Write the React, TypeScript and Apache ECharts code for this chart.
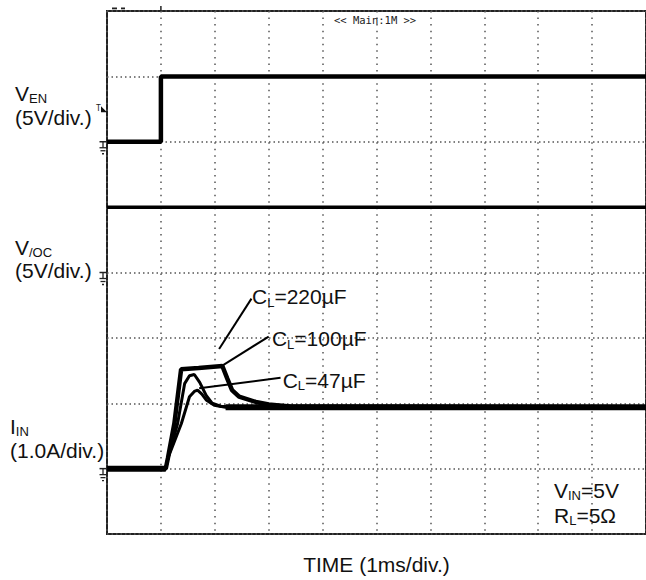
import React, { useEffect, useRef } from "react";
import * as echarts from "echarts";

const FONT = '"Liberation Sans", Arial, Helvetica, sans-serif';
const INK = "#111";

// axes: time in ms (1 ms / div), vertical in scope divisions
const TIME_MIN = 0;
const TIME_MAX = 10;
const TIME_STEP = 1;
const DIV_MIN = 0;
const DIV_MAX = 8;

// channel placement: ground level (div) and units per division
const VEN_GROUND = 6;
const VEN_PER_DIV = 5; // V/div
const VOC_GROUND = 4;
const VOC_PER_DIV = 5; // V/div
const IIN_GROUND = 1;
const IIN_PER_DIV = 1; // A/div
const TRIGGER_LEVEL_V = 2.25;

// V_EN trace (V)
const venTime = [0, 1.0, 1.0, 10];
const venVolts = [0, 0, 5, 5];

// V/OC trace (V)
const vocTime = [0, 10];
const vocVolts = [5, 5];

// I_IN traces (A)
const i220Time = [0, 1.09, 1.13, 1.25, 1.375, 1.7, 2.14, 2.23, 2.32, 2.45, 2.76, 3.0, 3.4, 10];
const i220Amps = [0, 0, 0.16, 0.69, 1.52, 1.54, 1.57, 1.38, 1.2, 1.1, 1.02, 0.98, 0.95, 0.94];

const i100Time = [0, 1.09, 1.13, 1.31, 1.44, 1.53, 1.62, 1.72, 1.84, 1.95, 2.12, 10];
const i100Amps = [0, 0, 0.16, 0.69, 1.3, 1.42, 1.44, 1.32, 1.12, 1.0, 0.95, 0.94];

const i47Time = [0, 1.09, 1.13, 1.38, 1.53, 1.62, 1.68, 1.76, 1.84, 1.99, 2.2, 10];
const i47Amps = [0, 0, 0.16, 0.69, 1.1, 1.18, 1.2, 1.14, 1.05, 0.97, 0.94, 0.94];

// common flat parts of the current traces (baseline and steady state)
const iFlatTime = [0, 1.09, null, 2.2, 10];
const iFlatAmps = [0, 0, null, 0.94, 0.94];

// annotations (time ms, current A)
const annCap = ["220µF", "100µF", "47µF"];
const annTextTime = [2.69, 3.06, 3.26];
const annTextAmps = [2.63, 1.99, 1.35];
const annFromTime = [2.68, 3.0, 3.22];
const annFromAmps = [2.6, 2.02, 1.39];
const annToTime = [2.08, 2.11, 1.71];
const annToAmps = [1.83, 1.56, 1.23];

const toDiv = (ground: number, perDiv: number) => (v: number) => ground + v / perDiv;
const venDiv = toDiv(VEN_GROUND, VEN_PER_DIV);
const vocDiv = toDiv(VOC_GROUND, VOC_PER_DIV);
const iinDiv = toDiv(IIN_GROUND, IIN_PER_DIV);

function zipData(t: (number | null)[], v: (number | null)[], f: (x: number) => number) {
  return t.map((x, i) => (x === null || v[i] === null ? null : [x, f(v[i] as number)]));
}

const richBase = {
  m: { fontSize: 21, fontFamily: FONT, fill: INK, lineHeight: 24 },
  s: { fontSize: 13, fontFamily: FONT, fill: INK, lineHeight: 16, verticalAlign: "bottom" },
  sl: { fontSize: 13, fontFamily: FONT, fill: INK, lineHeight: 9, verticalAlign: "bottom" },
};

function label(x: number, y: number, text: string) {
  return {
    type: "text",
    x,
    y,
    z: 50,
    style: { text, rich: richBase, verticalAlign: "middle", align: "left", fill: INK },
  };
}

export default function App() {
  const ref = useRef<HTMLDivElement>(null);

  useEffect(() => {
    if (!ref.current) return;
    const chart = echarts.init(ref.current, undefined, { renderer: "svg" });

    const series: any[] = [
      { name: "V_EN", data: zipData(venTime, venVolts, venDiv), w: 4.5 },
      { name: "V_OC", data: zipData(vocTime, vocVolts, vocDiv), w: 3.5 },
      { name: "I_IN flat", data: zipData(iFlatTime, iFlatAmps, iinDiv), w: 6 },
      { name: "CL 220", data: zipData(i220Time, i220Amps, iinDiv), w: 4.5 },
      { name: "CL 100", data: zipData(i100Time, i100Amps, iinDiv), w: 3 },
      { name: "CL 47", data: zipData(i47Time, i47Amps, iinDiv), w: 3 },
    ].map((s) => ({
      type: "line",
      name: s.name,
      data: s.data,
      showSymbol: false,
      connectNulls: false,
      lineStyle: { color: "#000", width: s.w },
      z: 10,
    }));

    chart.setOption({
      animation: false,
      backgroundColor: "#fff",
      grid: {
        left: 107,
        top: 11,
        width: 543,
        height: 525,
        show: true,
        borderColor: "#222",
        borderWidth: 2,
        backgroundColor: "transparent",
      },
      xAxis: {
        type: "value",
        min: TIME_MIN,
        max: TIME_MAX,
        interval: TIME_STEP,
        axisLine: { show: false },
        axisTick: { show: false },
        axisLabel: { show: false },
        splitLine: { show: true, lineStyle: { color: "#555", width: 1.5, type: [1.5, 5.06] } },
        name: "TIME (1ms/div.)",
        nameLocation: "middle",
        nameGap: 20,
        nameTextStyle: { fontSize: 21, fontFamily: FONT, color: INK, align: "center", verticalAlign: "top" },
      },
      yAxis: {
        type: "value",
        min: DIV_MIN,
        max: DIV_MAX,
        interval: 1,
        axisLine: { show: false },
        axisTick: { show: false },
        axisLabel: { show: false },
        splitLine: { show: true, lineStyle: { color: "#555", width: 1.5, type: [1.5, 3] } },
      },
      series,
    });

    const px = (t: number, d: number) => chart.convertToPixel({ gridIndex: 0 }, [t, d]) as number[];

    const graphics: any[] = [];

    // channel labels
    graphics.push(label(15, 93, "{m|V}{s|EN}"));
    graphics.push(label(15, 117, "{m|(5V/div.)}"));
    graphics.push(label(15, 247, "{m|V}{s|/OC}"));
    graphics.push(label(15, 270, "{m|(5V/div.)}"));
    graphics.push(label(10, 426, "{m|I}{s|IN}"));
    graphics.push(label(10, 450, "{m|(1.0A/div.)}"));
    graphics.push(label(554, 490, "{m|V}{s|IN}{m|=5V}"));
    graphics.push(label(554, 515, "{m|R}{s|L}{m|=5Ω}"));

    // annotations
    annCap.forEach((cap, i) => {
      const tp = px(annTextTime[i], iinDiv(annTextAmps[i]));
      graphics.push(label(tp[0], tp[1], `{m|C}{sl|L}{m|=${cap}}`));
      const a = px(annFromTime[i], iinDiv(annFromAmps[i]));
      const b = px(annToTime[i], iinDiv(annToAmps[i]));
      graphics.push({
        type: "line",
        z: 40,
        shape: { x1: a[0], y1: a[1], x2: b[0], y2: b[1] },
        style: { stroke: "#000", lineWidth: 2 },
      });
    });

    // ground markers
    [VEN_GROUND, VOC_GROUND, IIN_GROUND].forEach((g) => {
      const p = px(TIME_MIN, g);
      const x = p[0] - 4;
      const y = p[1];
      const seg = (x1: number, y1: number, x2: number, y2: number, w = 1.3) => ({
        type: "line",
        z: 40,
        shape: { x1, y1, x2, y2 },
        style: { stroke: "#222", lineWidth: w },
      });
      graphics.push(seg(x - 3.5, y, p[0], y, 1.5));
      graphics.push(seg(x, y, x, y + 6));
      graphics.push(seg(x - 3.5, y + 6, x + 3.5, y + 6));
      graphics.push(seg(x - 2.5, y + 9, x + 2.5, y + 9));
      graphics.push(seg(x - 1, y + 12, x + 1, y + 12));
    });

    // trigger marker on V_EN
    {
      const p = px(TIME_MIN, venDiv(TRIGGER_LEVEL_V));
      graphics.push({
        type: "text",
        x: p[0] - 11,
        y: p[1] - 4,
        z: 40,
        style: { text: "T", fontSize: 8, fontFamily: "DejaVu Sans Mono, monospace", fill: "#222", verticalAlign: "middle" },
      });
      graphics.push({
        type: "polygon",
        z: 40,
        shape: { points: [[p[0] - 6, p[1] - 6], [p[0] - 6, p[1]], [p[0], p[1]]] },
        style: { fill: "#111" },
      });
    }

    // header & top marks
    const top = px(TIME_MIN, DIV_MAX);
    graphics.push({
      type: "text",
      x: 334,
      y: top[1] + 9,
      z: 40,
      style: { text: "<< Main:1M >>", fontSize: 10.5, fontFamily: "DejaVu Sans Mono, monospace", fill: "#222", verticalAlign: "middle" },
    });
    graphics.push({ type: "rect", z: 40, shape: { x: top[0] + 5, y: top[1] - 3.5, width: 5, height: 1.8 }, style: { fill: "#222" } });
    graphics.push({ type: "rect", z: 40, shape: { x: top[0] + 14, y: top[1] - 3.5, width: 4, height: 1.8 }, style: { fill: "#222" } });
    const trig = px(venTime[1], DIV_MAX);
    graphics.push({ type: "line", z: 40, shape: { x1: trig[0], y1: trig[1] - 5, x2: trig[0], y2: trig[1] }, style: { stroke: "#222", lineWidth: 1.5 } });

    chart.setOption({ graphic: graphics });

    return () => chart.dispose();
  }, []);

  return (
    <div
      ref={ref}
      style={{ position: "absolute", left: 0, top: 0, width: 646, height: 580, background: "#fff" }}
    />
  );
}
